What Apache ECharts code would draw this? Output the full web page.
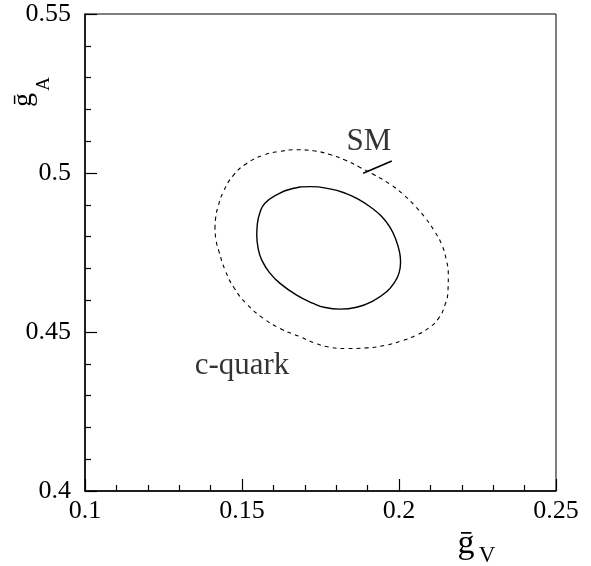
<!DOCTYPE html>
<html>
<head>
<meta charset="utf-8">
<script src="https://cdn.jsdelivr.net/npm/echarts@6/dist/echarts.min.js"></script>
<style>
    html, body { margin: 0; padding: 0; background: #fff; }
    #chart { width: 591px; height: 566px; }
</style>
</head>
<body>
<div id="chart"></div>
<script>
    // points, [gV, gA]
    const innerContour = [
        [0.1547, 0.4805], [0.1549, 0.4840], [0.1557, 0.4875], [0.1573, 0.4905],
        [0.1610, 0.4931], [0.1653, 0.4949], [0.1717, 0.4957], [0.1780, 0.4950],
        [0.1830, 0.4936], [0.1870, 0.4918], [0.1908, 0.4894], [0.1945, 0.4863],
        [0.1972, 0.4828], [0.1990, 0.4790], [0.2002, 0.4750], [0.2005, 0.4720],
        [0.2000, 0.4685], [0.1985, 0.4655], [0.1961, 0.4627], [0.1918, 0.4598],
        [0.1865, 0.4578], [0.1812, 0.4572], [0.1765, 0.4577], [0.1727, 0.4590],
        [0.1674, 0.4616], [0.1621, 0.4653], [0.1589, 0.4685], [0.1563, 0.4726],
        [0.1551, 0.4765], [0.1547, 0.4805]
    ];
    const outerContour = [
        [0.1414, 0.4825], [0.1416, 0.4858], [0.1424, 0.4895], [0.1440, 0.4940],
        [0.1472, 0.4992], [0.1515, 0.5030], [0.1568, 0.5056], [0.1621, 0.5068],
        [0.1674, 0.5073], [0.1727, 0.5070], [0.1780, 0.5058], [0.1830, 0.5040],
        [0.1875, 0.5018], [0.1918, 0.4996], [0.1971, 0.4965], [0.2014, 0.4932],
        [0.2052, 0.4895], [0.2085, 0.4857], [0.2113, 0.4817], [0.2136, 0.4775],
        [0.2150, 0.4730], [0.2157, 0.4680], [0.2156, 0.4630], [0.2146, 0.4584],
        [0.2126, 0.4543], [0.2095, 0.4513], [0.2055, 0.4490], [0.2008, 0.4472],
        [0.1955, 0.4458], [0.1897, 0.4450], [0.1833, 0.4448], [0.1775, 0.4453],
        [0.1730, 0.4466], [0.1685, 0.4485], [0.1621, 0.4511], [0.1568, 0.4543],
        [0.1515, 0.4588], [0.1474, 0.4640], [0.1446, 0.4695], [0.1427, 0.4752],
        [0.1417, 0.4790], [0.1414, 0.4825]
    ];
    const smMarker = [[0.1886, 0.4999], [0.1977, 0.5038]];
    const plotLabels = [
        {name: 'SM', value: [0.1904, 0.5098]},
        {name: 'c-quark', value: [0.1500, 0.4393]}
    ];
    const xRange = [0.1, 0.25];
    const yRange = [0.4, 0.55];

    const serif = '"Liberation Serif", "DejaVu Serif", serif';

    let chart = echarts.init(document.getElementById('chart'));

    let axisCommon = {
        type: 'value',
        interval: 0.05,
        axisLine: {lineStyle: {color: '#000', width: 1.5}},
        axisTick: {inside: true, length: 12, lineStyle: {color: '#000', width: 1.2}},
        minorTick: {show: true, splitNumber: 5, length: 6, lineStyle: {color: '#000', width: 1.2}},
        splitLine: {show: false},
        axisLabel: {fontFamily: serif, fontSize: 26, color: '#000'}
    };

    let option = {
        backgroundColor: '#fff',
        animation: false,
        grid: {
            left: 85, right: 35, top: 14, bottom: 75,
            show: true, borderColor: '#000', borderWidth: 1,
            outerBoundsMode: 'none'
        },
        xAxis: Object.assign({}, axisCommon, {
            min: xRange[0], max: xRange[1],
            axisLabel: Object.assign({}, axisCommon.axisLabel, {margin: 7})
        }),
        yAxis: Object.assign({}, axisCommon, {
            min: yRange[0], max: yRange[1],
            axisLabel: Object.assign({}, axisCommon.axisLabel, {margin: 14})
        }),
        series: [
            {
                name: 'outer',
                type: 'line',
                data: outerContour,
                symbol: 'none',
                smooth: 0.5,
                lineStyle: {color: '#000', width: 1.1, type: [4, 4]}
            },
            {
                name: 'inner',
                type: 'line',
                data: innerContour,
                symbol: 'none',
                smooth: 0.5,
                lineStyle: {color: '#000', width: 1.4}
            },
            {
                name: 'SM',
                type: 'line',
                data: smMarker,
                symbol: 'none',
                lineStyle: {color: '#000', width: 1.6}
            },
            {
                name: 'labels',
                type: 'scatter',
                data: plotLabels,
                symbolSize: 0,
                label: {
                    show: true,
                    position: 'inside',
                    formatter: '{b}',
                    fontFamily: serif,
                    fontSize: 31,
                    color: '#000'
                }
            }
        ],
        graphic: [
            // y axis title, rotated
            {type: 'text', x: 24, y: 100, rotation: Math.PI / 2,
                style: {text: '\u1E21', font: '28px ' + serif, fill: '#000', align: 'center', verticalAlign: 'middle'}},
            {type: 'text', x: 44, y: 84, rotation: Math.PI / 2,
                style: {text: 'A', font: '19px ' + serif, fill: '#000', align: 'center', verticalAlign: 'middle'}},
            // x axis title
            {type: 'text', x: 466, y: 544,
                style: {text: '\u1E21', font: '34px ' + serif, fill: '#000', align: 'center', verticalAlign: 'middle'}},
            {type: 'text', x: 487, y: 556,
                style: {text: 'V', font: '23px ' + serif, fill: '#000', align: 'center', verticalAlign: 'middle'}}
        ]
    };

    chart.setOption(option);
</script>
</body>
</html>
